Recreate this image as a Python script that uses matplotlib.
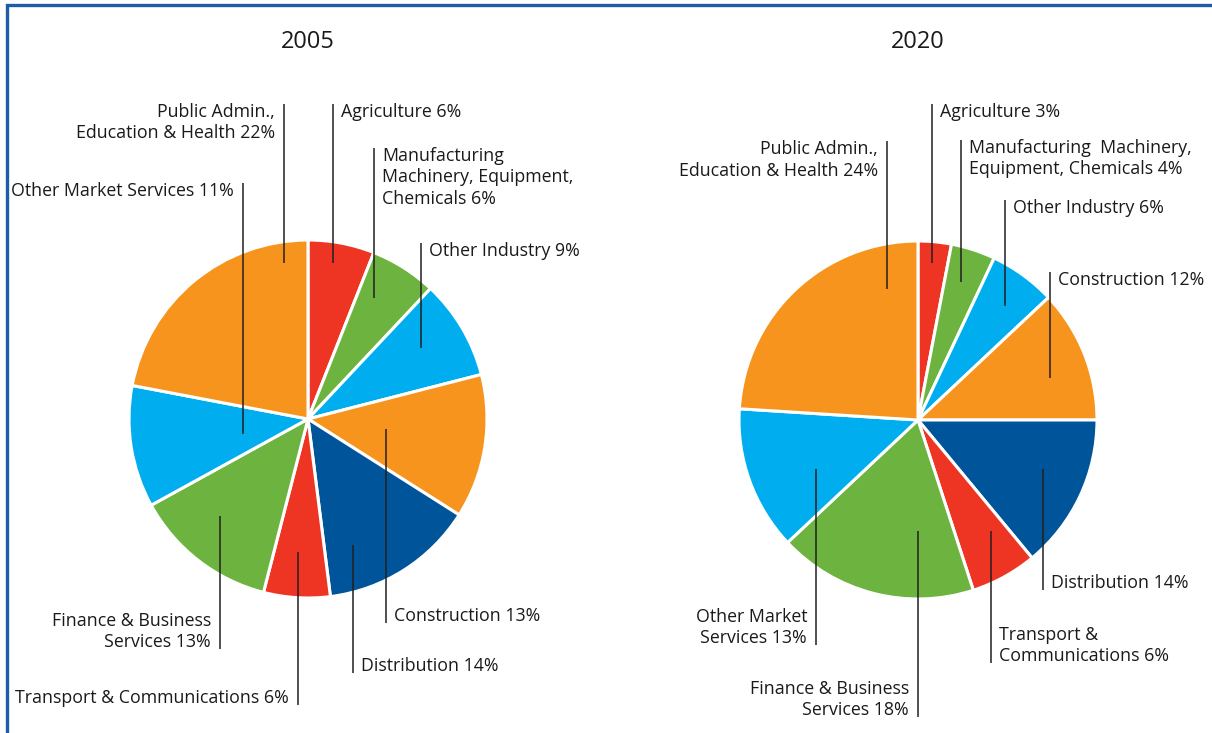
import matplotlib
matplotlib.use("Agg")
import matplotlib.pyplot as plt
from matplotlib.patches import Rectangle

plt.rcParams['font.family'] = ['Open Sans', 'DejaVu Sans']

# ---- data ----
sectors = ["Agriculture", "Manufacturing Machinery, Equipment, Chemicals", "Other Industry",
           "Construction", "Distribution", "Transport & Communications",
           "Finance & Business Services", "Other Market Services",
           "Public Admin., Education & Health"]
values_2005 = [6, 6, 9, 13, 14, 6, 13, 11, 22]
values_2020 = [3, 4, 6, 12, 14, 6, 18, 13, 24]
labels_2005 = ["Agriculture 6%", "Manufacturing\nMachinery, Equipment,\nChemicals 6%",
               "Other Industry 9%", "Construction 13%", "Distribution 14%",
               "Transport & Communications 6%", "Finance & Business\nServices 13%",
               "Other Market Services 11%", "Public Admin.,\nEducation & Health 22%"]
labels_2020 = ["Agriculture 3%", "Manufacturing  Machinery,\nEquipment, Chemicals 4%",
               "Other Industry 6%", "Construction 12%", "Distribution 14%",
               "Transport &\nCommunications 6%", "Finance & Business\nServices 18%",
               "Other Market\nServices 13%", "Public Admin.,\nEducation & Health 24%"]
titles = ["2005", "2020"]
colors = ["#EE3524", "#6DB33F", "#00AEEF", "#F7941D", "#00559A",
          "#EE3524", "#6DB33F", "#00AEEF", "#F7941D"]

# ---- layout (pixel positions, y measured from top) ----
W, H = 1212, 733
centers = [(308, 419), (918, 420)]
radius = 179
# per label: (line x, inner y, outer y, side)  side: 'R' text right of line, 'L' text left
leaders_2005 = [(333, 263, 104, 'R'), (374, 298, 148, 'R'), (421, 348, 243, 'R'),
                (386, 429, 623, 'R'), (353, 545, 673, 'R'), (298, 552, 705, 'L'),
                (220, 516, 649, 'L'), (243, 434, 183, 'L'), (284, 263, 104, 'L')]
leaders_2020 = [(932, 263, 104, 'R'), (961, 282, 140, 'R'), (1005, 306, 200, 'R'),
                (1050, 378, 272, 'R'), (1043, 469, 590, 'R'), (991, 531, 663, 'R'),
                (918, 531, 717, 'L'), (816, 469, 645, 'L'), (887, 289, 141, 'L')]

fig = plt.figure(figsize=(W / 100, H / 100), dpi=100)
ax = fig.add_axes([0, 0, 1, 1])

def Y(y):
    return H - y

FS = 12.8
for vals, labs, leaders, (cx, cy), title in [
        (values_2005, labels_2005, leaders_2005, centers[0], titles[0]),
        (values_2020, labels_2020, leaders_2020, centers[1], titles[1])]:
    ax.pie(vals, colors=colors, startangle=90, counterclock=False,
           center=(cx, Y(cy)), radius=radius,
           wedgeprops=dict(edgecolor="white", linewidth=2.2))
    ax.text(cx, Y(42), title, ha="center", va="center", fontsize=17, color="#1A1A1A")
    for lab, (lx, yin, yout, side) in zip(labs, leaders):
        ax.plot([lx, lx], [Y(yin), Y(yout)], color="#231F20", lw=1.1, solid_capstyle="butt")
        top = yout < yin
        va = "top" if top else "bottom"
        ty = Y(yout - 1) if top else Y(yout + 2)
        if side == 'R':
            ax.text(lx + 8, ty, lab, ha="left", va=va, fontsize=FS,
                    color="#1A1A1A", linespacing=1.25, multialignment="left")
        else:
            ax.text(lx - 9, ty, lab, ha="right", va=va, fontsize=FS,
                    color="#1A1A1A", linespacing=1.25, multialignment="right")

ax.set_xlim(0, W)
ax.set_ylim(0, H)
ax.set_aspect("equal")
ax.axis("off")

# frame
ax.add_patch(Rectangle((7, Y(H + 20)), W + 20, H + 20 - 5, fill=False,
                       edgecolor="#1E5BA8", lw=2.4, clip_on=False))

fig.savefig("out.png", dpi=100)
